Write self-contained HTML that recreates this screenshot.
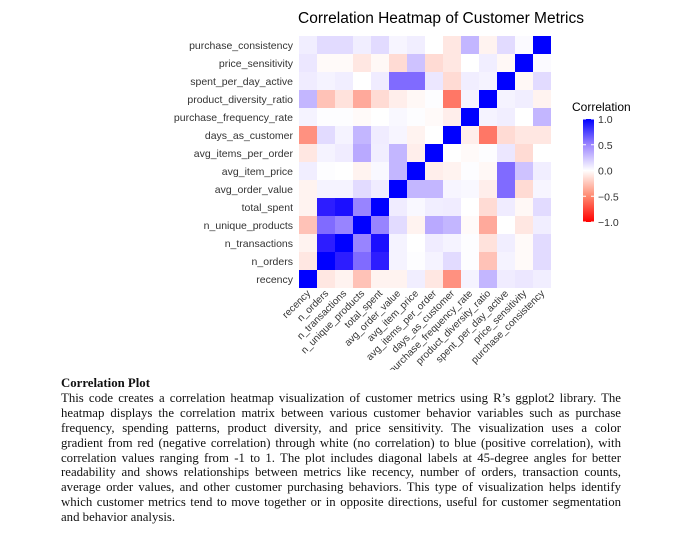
<!DOCTYPE html>
<html><head><meta charset="utf-8">
<style>
body{margin:0;background:#fff;width:697px;height:550px;overflow:hidden;position:relative;font-family:"Liberation Sans",sans-serif}
#txt{position:absolute;left:61px;top:376px;width:560px;font-family:"Liberation Serif",serif;font-size:12.8px;color:#111;line-height:14.9px}
#txt .l{text-align:justify;text-align-last:justify;white-space:nowrap;overflow:hidden}
#txt .last{text-align:left;text-align-last:left}
</style></head><body>
<svg id="chart" width="697" height="370" style="position:absolute;left:0;top:0">
<defs><linearGradient id="cg" x1="0" y1="1" x2="0" y2="0">
<stop offset="0" stop-color="#ff0000"/><stop offset="0.25" stop-color="#ff8a70"/><stop offset="0.5" stop-color="#ffffff"/><stop offset="0.75" stop-color="#9d86ff"/><stop offset="1" stop-color="#0000ff"/></linearGradient></defs>
<text x="441" y="23" text-anchor="middle" font-size="15.5" fill="#000">Correlation Heatmap of Customer Metrics</text>
<g id="cells"></g><g id="ylab"></g><g id="xlab"></g>
<g>
<text x="572" y="111" font-size="12" fill="#000">Correlation</text>
<rect x="583" y="119" width="11" height="103" fill="url(#cg)"/>
<g id="lt"></g>
</g>
</svg>
<div id="txt">
<div style="font-weight:bold">Correlation Plot</div>
<div class="l">This code creates a correlation heatmap visualization of customer metrics using R’s ggplot2 library. The</div>
<div class="l">heatmap displays the correlation matrix between various customer behavior variables such as purchase</div>
<div class="l">frequency, spending patterns, product diversity, and price sensitivity. The visualization uses a color</div>
<div class="l">gradient from red (negative correlation) through white (no correlation) to blue (positive correlation), with</div>
<div class="l">correlation values ranging from -1 to 1. The plot includes diagonal labels at 45-degree angles for better</div>
<div class="l">readability and shows relationships between metrics like recency, number of orders, transaction counts,</div>
<div class="l">average order values, and other customer purchasing behaviors. This type of visualization helps identify</div>
<div class="l">which customer metrics tend to move together or in opposite directions, useful for customer segmentation</div>
<div class="l last">and behavior analysis.</div>
</div>
<script>
const variables=["recency","n_orders","n_transactions","n_unique_products","total_spent","avg_order_value","avg_item_price","avg_items_per_order","days_as_customer","purchase_frequency_rate","product_diversity_ratio","spent_per_day_active","price_sensitivity","purchase_consistency"];
const corrRows=[
[1,-0.1,-0.05,-0.25,-0.05,-0.05,0.07,-0.1,-0.45,0.05,0.3,0.08,0.1,0.07],
[-0.1,1,0.9,0.6,0.9,0.05,0.01,0.05,0.15,0.01,-0.25,0.05,-0.02,0.15],
[-0.05,0.9,1,0.5,0.95,0.05,0,0.08,0.05,0.01,-0.12,0.07,-0.02,0.15],
[-0.25,0.6,0.5,1,0.5,0.15,-0.05,0.35,0.3,-0.02,-0.35,0,-0.1,0.07],
[-0.05,0.9,0.95,0.5,1,0.08,0.03,0.07,0.08,0,-0.15,0.08,-0.03,0.15],
[-0.05,0.05,0.05,0.15,0.08,1,0.3,0.3,0.04,0.03,-0.07,0.6,-0.15,0.04],
[0.07,0.01,0,-0.05,0.03,0.3,1,-0.07,-0.05,0.01,-0.03,0.6,0.25,0.07],
[-0.1,0.05,0.08,0.35,0.07,0.3,-0.07,1,0,-0.02,0.01,0.1,-0.15,0],
[-0.45,0.15,0.05,0.3,0.08,0.04,-0.05,0,1,-0.07,-0.55,-0.15,-0.1,-0.1],
[0.05,0.01,0.01,-0.02,0,0.03,0.01,-0.02,-0.07,1,0.05,0.07,0,0.3],
[0.3,-0.25,-0.12,-0.35,-0.15,-0.07,-0.03,0.01,-0.55,0.05,1,0.05,0.07,-0.05],
[0.08,0.05,0.07,0,0.08,0.6,0.6,0.1,-0.15,0.07,0.05,1,-0.03,0.15],
[0.1,-0.02,-0.02,-0.1,-0.03,-0.15,0.25,-0.15,-0.1,0,0.07,-0.03,1,0.02],
[0.07,0.15,0.15,0.07,0.15,0.04,0.07,0,-0.1,0.3,-0.05,0.15,0.02,1]];
const legendTicks=[1,0.5,0,-0.5,-1];
const legendLabels=["1.0","0.5","0.0","\u22120.5","\u22121.0"];
const NS="http://www.w3.org/2000/svg";
const x0=299,y1=288,cs=18;
const xPos=i=>x0+i*cs, yPos=i=>y1-(i+1)*cs;
const legY=v=>119+(1-v)/2*103;
function col(v){
  if(v>=0){const r=Math.round(255*Math.pow(1-v,0.75)),g=Math.round(255*Math.pow(1-v,0.95));return `rgb(${r},${g},255)`;}
  const t=-v;const g=Math.round(255*Math.pow(1-t,0.95)),b=Math.round(255*Math.pow(1-t,1.15));return `rgb(255,${g},${b})`;
}
const cells=document.getElementById('cells');
corrRows.forEach((row,i)=>row.forEach((v,j)=>{
  const r=document.createElementNS(NS,'rect');
  r.setAttribute('x',xPos(j));r.setAttribute('y',yPos(i));r.setAttribute('width',cs);r.setAttribute('height',cs);r.setAttribute('fill',col(v));
  
  
  cells.appendChild(r);
}));
const yl=document.getElementById('ylab'),xl=document.getElementById('xlab');
variables.forEach((n,i)=>{
  const t=document.createElementNS(NS,'text');
  t.setAttribute('x',293);t.setAttribute('y',yPos(i)+cs/2+4);t.setAttribute('text-anchor','end');t.setAttribute('font-size','10.5');t.setAttribute('fill','#333');t.textContent=n;
  
  
  yl.appendChild(t);
  const u=document.createElementNS(NS,'text');
  const cx=xPos(i)+cs/2+3,cy=294;
  u.setAttribute('x',cx);u.setAttribute('y',cy);u.setAttribute('text-anchor','end');u.setAttribute('font-size','10');u.setAttribute('fill','#333');
  u.setAttribute('transform',`rotate(-45 ${cx} ${cy})`);u.textContent=n;
  
  
  xl.appendChild(u);
});
const lt=document.getElementById('lt');
legendTicks.forEach((v,k)=>{
  const y=legY(v);
  const t=document.createElementNS(NS,'text');
  t.setAttribute('x',598);t.setAttribute('y',y+4);t.setAttribute('font-size','10.5');t.setAttribute('fill','#333');t.textContent=legendLabels[k];
  
  
  lt.appendChild(t);
  [[583,586],[591,594]].forEach(p=>{const l=document.createElementNS(NS,'line');l.setAttribute('x1',p[0]);l.setAttribute('x2',p[1]);l.setAttribute('y1',y);l.setAttribute('y2',y);l.setAttribute('stroke','#fff');
  
  
  lt.appendChild(l);});
});
</script>
</body></html>
